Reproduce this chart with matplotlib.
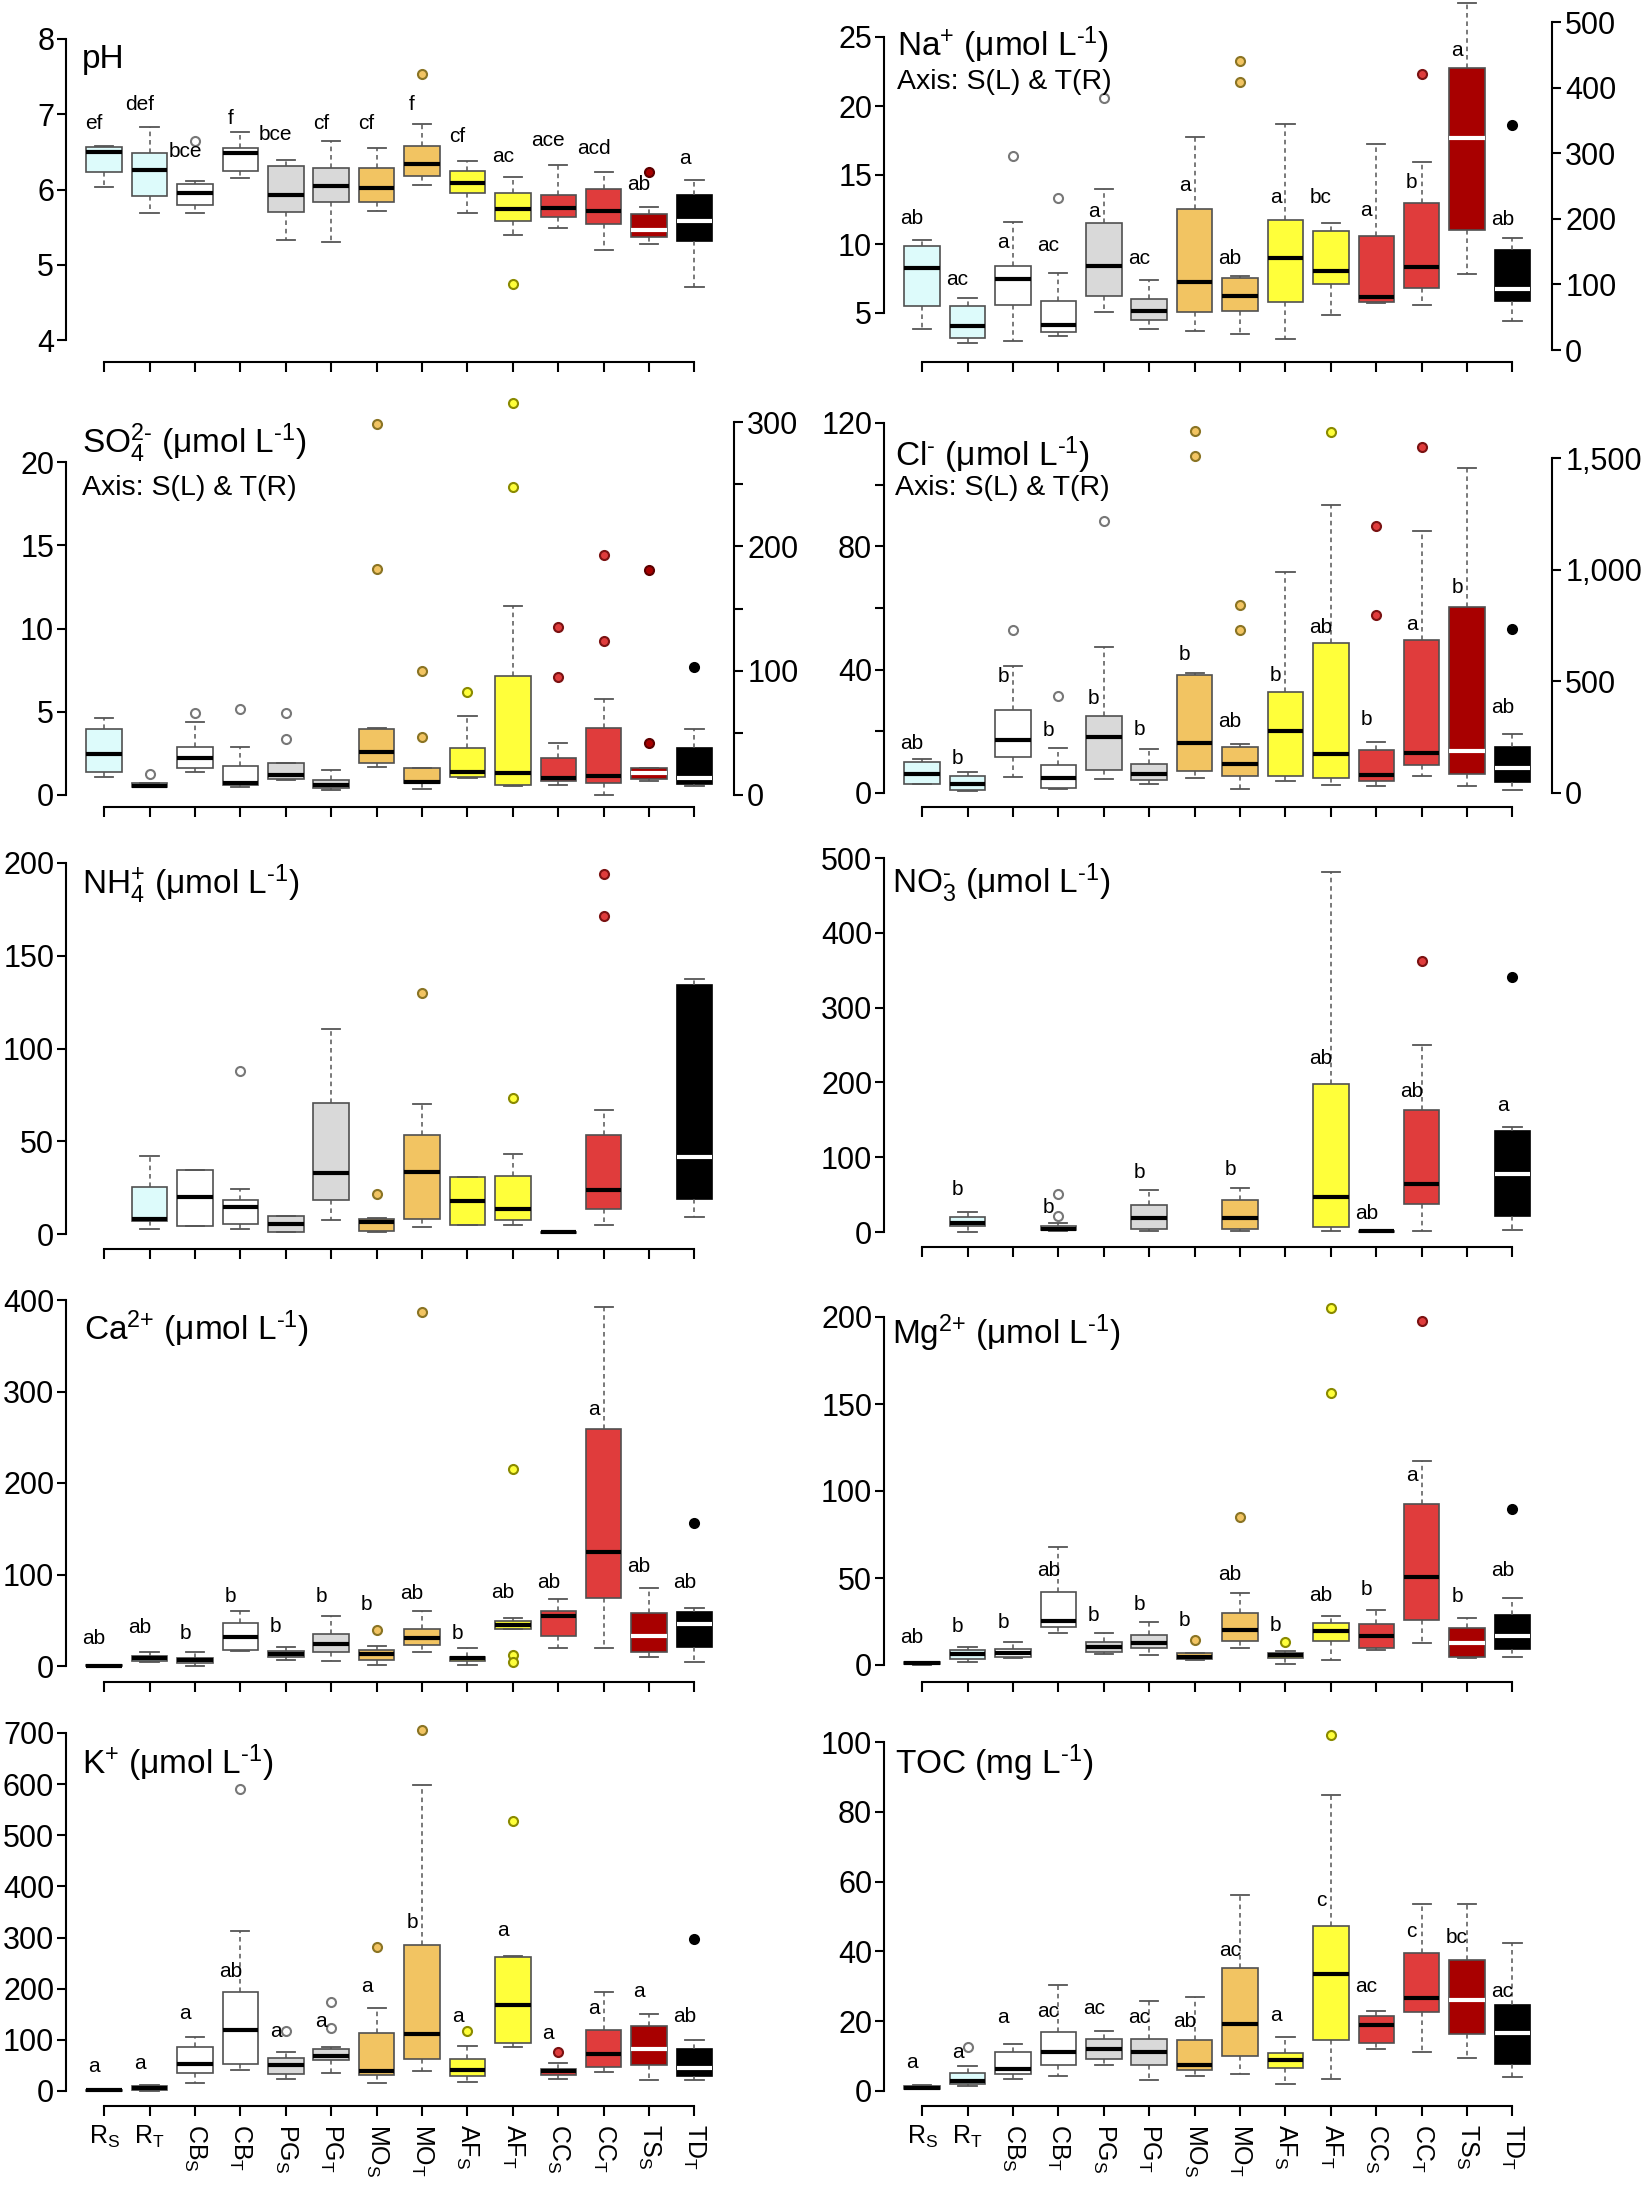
import matplotlib.pyplot as plt

plt.rcParams['font.family'] = ['Liberation Sans', 'DejaVu Sans']
plt.rcParams['mathtext.fontset'] = 'custom'
plt.rcParams['mathtext.rm'] = 'Liberation Sans'
plt.rcParams['mathtext.it'] = 'Liberation Sans:italic'
plt.rcParams['mathtext.bf'] = 'Liberation Sans:bold'

# groups (S = surface, T = throughfall)
groups = ['R', 'R', 'CB', 'CB', 'PG', 'PG', 'MO', 'MO', 'AF', 'AF', 'CC', 'CC', 'TS', 'TD']
subs = ['S', 'T', 'S', 'T', 'S', 'T', 'S', 'T', 'S', 'T', 'S', 'T', 'S', 'T']
box_cols = ['#DDFBFB', '#DDFBFB', '#FFFFFF', '#FFFFFF', '#D9D9D9', '#D9D9D9', '#F2C462', '#F2C462',
            '#FFFF3A', '#FFFF3A', '#E03C3C', '#E03C3C', '#A80000', '#000000']
out_edge = ['#777777', '#777777', '#777777', '#777777', '#777777', '#777777', '#8a7424', '#8a7424',
            '#8a8a00', '#8a8a00', '#7a1212', '#7a1212', '#5a0000', '#000000']

# box stats: [low whisker, Q1, median, Q3, high whisker]
ph_stats = [[6.03, 6.23, 6.50, 6.57, 6.58], [5.69, 5.92, 6.26, 6.49, 6.83], [5.69, 5.80, 5.96, 6.07, 6.11],
            [6.15, 6.25, 6.48, 6.55, 6.77], [5.33, 5.70, 5.93, 6.31, 6.39], [5.30, 5.83, 6.05, 6.29, 6.64],
            [5.72, 5.83, 6.02, 6.29, 6.55], [6.06, 6.18, 6.34, 6.58, 6.87], [5.69, 5.96, 6.08, 6.25, 6.38],
            [5.40, 5.58, 5.74, 5.95, 6.16], [5.49, 5.63, 5.75, 5.93, 6.33], [5.19, 5.54, 5.71, 6.01, 6.23],
            [5.27, 5.37, 5.46, 5.67, 5.77], [4.70, 5.31, 5.58, 5.93, 6.13]]
ph_out = [[], [], [6.65], [], [], [], [], [7.54], [], [4.74], [], [], [6.23], []]
ph_let = ['ef', 'def', 'bce', 'f', 'bce', 'cf', 'cf', 'f', 'cf', 'ac', 'ace', 'acd', 'ab', 'a']
ph_let_y = [6.88, 7.13, 6.50, 6.95, 6.73, 6.88, 6.88, 7.13, 6.71, 6.44, 6.65, 6.54, 6.06, 6.41]

# Na: S on left axis, T on right axis
na_stats = [[3.83, 5.49, 8.29, 9.88, 10.32], [10, 18, 37, 67, 79], [2.98, 5.56, 7.44, 8.41, 11.59],
            [21, 27, 38, 74, 118], [5.07, 6.22, 8.37, 11.54, 14.02], [32, 46, 60, 78, 107],
            [3.71, 5.07, 7.27, 12.51, 17.76], [24, 59, 83, 109, 113], [3.10, 5.80, 9.02, 11.71, 18.66],
            [54, 101, 121, 182, 194], [5.73, 5.80, 6.17, 10.61, 17.24], [68, 95, 127, 224, 287],
            [7.80, 10.98, 17.68, 22.73, 27.5], [44, 75, 93, 153, 171]]
na_out = [[], [], [16.41], [231], [20.56], [], [], [440, 409], [], [], [], [421], [], [343]]
na_let = ['ab', 'ac', 'a', 'ac', 'a', 'ac', 'a', 'ab', 'a', 'bc', 'a', 'b', 'a', 'ab']
na_let_y = [11.83, 107, 10.12, 159, 12.32, 140, 14.22, 140, 13.34, 232, 12.44, 255, 24.02, 199]

so4_stats = [[1.1, 1.4, 2.46, 3.94, 4.6], [6.2, 6.2, 7.5, 9.4, 9.4], [1.36, 1.6, 2.24, 2.86, 4.4],
             [6.7, 8, 9.4, 23.6, 39], [0.9, 0.94, 1.2, 1.9, 1.94], [4, 5.4, 8, 12, 20],
             [1.7, 1.9, 2.56, 3.96, 4.0], [4.6, 9.4, 10.7, 21.4, 22], [1.0, 1.1, 1.4, 2.84, 4.74],
             [7.2, 8, 17.4, 95.6, 152], [0.6, 0.84, 1.04, 2.24, 3.14], [0, 9.4, 15.3, 54, 77],
             [0.84, 0.96, 1.3, 1.64, 1.64], [7.2, 8.6, 13.4, 37.5, 53]]
so4_out = [[], [16.6], [4.9], [69], [4.94, 3.36], [], [22.3, 13.6], [100, 47], [6.2], [315, 248],
           [10.1, 7.1], [193, 124], [13.5, 3.14], [103]]
so4_let = [''] * 14
so4_let_y = [None] * 14

cl_stats = [[2.9, 2.9, 6.2, 9.9, 11.0], [9, 15, 42, 75, 94], [5.2, 11.6, 17.1, 27.0, 41.1],
            [19, 24, 69, 124, 203], [4.6, 7.6, 18.1, 25.1, 47.4], [42, 57, 87, 131, 199],
            [4.9, 7.2, 16.2, 38.4, 38.9], [19, 75, 131, 206, 218], [3.8, 5.4, 20.2, 32.6, 71.7],
            [37, 69, 176, 672, 1291], [2.2, 4.0, 5.9, 14.1, 16.4], [75, 124, 179, 687, 1173],
            [2.4, 6.2, 13.5, 60.2, 105.4], [15, 49, 112, 206, 266]]
cl_out = [[], [], [53], [433], [88.1], [], [117.3, 109.2], [840, 728], [], [1616], [86.5, 57.8],
          [1549], [], [736]]
cl_let = ['ab', 'b', 'b', 'b', 'b', 'b', 'b', 'ab', 'b', 'ab', 'b', 'a', 'b', 'ab']
cl_let_y = [16.2, 154, 37.8, 281, 30.8, 284, 44.9, 318, 38.1, 743, 23.8, 754, 66.8, 385]

nh4_stats = [None, [2.7, 6.8, 8.3, 25.2, 42.2], [4.5, 4.5, 19.8, 34.7, 34.7], [2.7, 5.4, 14.4, 18.5, 24.3],
             [1.1, 1.1, 5.4, 9.5, 9.5], [7.7, 18.5, 32.9, 70.6, 110.5], [1.1, 1.4, 6.3, 8.3, 8.6],
             [3.8, 8.3, 33.4, 53.5, 70.3], [4.7, 4.7, 18.0, 30.7, 30.7], [4.7, 7.7, 13.7, 31.1, 43.1],
             [0.8, 0.8, 1.0, 1.2, 1.2], [4.7, 13.7, 23.5, 53.5, 67.0], None, [9.0, 19.0, 41.5, 134.1, 137.6]]
nh4_out = [[], [], [], [88.0], [], [], [21.7], [129.9], [], [73.3], [], [194.1, 171.2], [], []]
nh4_let = [''] * 14
nh4_let_y = [None] * 14

no3_stats = [None, [0, 7.6, 12.0, 19.6, 26.7], None, [1.8, 2.2, 4.5, 7.6, 12.0], None,
             [1.8, 4.0, 18.7, 36.5, 56.6], None, [1.8, 4.0, 18.7, 43.2, 58.8], None,
             [1.8, 6.7, 46.8, 198.3, 481.3], [0.5, 0.6, 0.9, 1.2, 1.3], [1.8, 37.9, 64.6, 163.5, 249.6],
             None, [3.1, 20.9, 77.5, 134.6, 139.9]]
no3_out = [[], [], [], [51.2, 20.9], [], [], [], [], [], [], [], [361.9], [], [340.5]]
no3_let = ['', 'b', '', 'b', '', 'b', '', 'b', '', 'ab', 'ab', 'ab', '', 'a']
no3_let_y = [None, 56.6, None, 32.1, None, 79.8, None, 84.2, None, 231.3, 25.4, 188.1, None, 168.9]

ca_stats = [[0, 0, 0.3, 0.7, 0.8], [4.7, 5.8, 8.4, 10.9, 15.7], [0, 2.9, 6.6, 8.4, 15.7],
            [16.4, 17.5, 32.1, 47.4, 60.5], [6.6, 10.2, 13.1, 16.8, 21.1], [5.8, 15.7, 23.7, 34.6, 55.0],
            [1.1, 6.6, 12.8, 17.5, 22.2], [15.7, 23.0, 30.2, 40.1, 60.1], [1.1, 5.8, 8.4, 10.2, 19.3],
            [40.4, 40.4, 44.8, 49.2, 52.8], [20.0, 33.2, 55.0, 60.5, 73.2], [20.0, 74.7, 125.0, 259.0, 392.7],
            [10.2, 15.7, 33.2, 57.6, 84.9], [4.7, 21.1, 45.5, 59.4, 63.8]]
ca_out = [[], [], [], [], [], [], [39.3], [386.5], [], [214.9, 12.0, 4.7], [], [], [], [155.9]]
ca_let = ['ab', 'ab', 'b', 'b', 'b', 'b', 'b', 'ab', 'b', 'ab', 'ab', 'a', 'ab', 'ab']
ca_let_y = [30.2, 42.3, 35.7, 75.8, 43.0, 75.8, 66.7, 79.4, 35.7, 80.1, 91.4, 280.0, 108.6, 91.4]

mg_stats = [[0, 0.4, 1.0, 1.5, 1.5], [1.9, 3.3, 6.1, 8.6, 10.5], [4.2, 4.8, 6.7, 9.2, 13.0],
            [18.2, 22.0, 25.5, 42.1, 67.9], [6.1, 7.3, 10.5, 13.4, 18.2], [5.7, 10.0, 12.4, 17.2, 24.5],
            [2.9, 3.4, 4.8, 6.7, 6.7], [10.0, 14.0, 20.1, 29.7, 41.1], [0.4, 4.2, 5.7, 7.1, 8.0],
            [2.9, 14.0, 19.5, 24.3, 28.3], [8.6, 10.0, 16.8, 23.5, 31.6], [12.4, 25.8, 50.3, 92.8, 117.3],
            [3.8, 4.8, 12.4, 21.4, 27.2], [4.8, 9.0, 16.8, 28.7, 38.7]]
mg_out = [[], [], [], [], [], [], [14.4], [85.2], [13.4], [205.2, 156.4], [], [197.5], [], [89.4]]
mg_let = ['ab', 'b', 'b', 'ab', 'b', 'b', 'b', 'ab', 'b', 'ab', 'b', 'a', 'b', 'ab']
mg_let_y = [15.7, 22.4, 24.3, 54.5, 28.7, 34.8, 25.3, 52.1, 22.6, 40.2, 43.4, 109.1, 39.2, 54.5]

k_stats = [[0, 0.5, 1, 2, 3], [0, 1.3, 6.5, 9.8, 11.1], [16.3, 35.3, 53.6, 86.2, 105.8],
           [40.5, 53.6, 118.9, 192.7, 312.9], [24.2, 32.7, 51.6, 65.3, 76.4], [35.3, 61.4, 67.9, 81.6, 86.2],
           [15.7, 30.7, 38.5, 114.3, 162.6], [39.2, 62.1, 112.3, 285.4, 598.9], [17.6, 29.4, 41.8, 62.1, 88.2],
           [86.2, 94.7, 167.9, 262.6, 263.9], [24.2, 32.0, 39.2, 43.8, 54.9], [37.2, 47.0, 73.2, 118.9, 192.7],
           [22.2, 50.3, 83.0, 127.4, 150.2], [22.2, 28.7, 45.1, 81.6, 99.3]]
k_out = [[], [], [], [590.5], [116.9], [173.1, 123.4], [282.2], [705.4], [116.9], [527.1], [76.4], [], [],
         [296.5]]
k_let = ['a', 'a', 'a', 'ab', 'a', 'a', 'a', 'b', 'a', 'a', 'a', 'a', 'a', 'ab']
k_let_y = [47, 53.6, 151.5, 233.2, 116.9, 135.2, 205.1, 329.2, 145.0, 312.9, 112.3, 161.3, 194.0, 145.0]

toc_stats = [[0.5, 0.7, 1.0, 1.4, 1.6], [1.3, 2.1, 2.8, 5.3, 7.2], [3.5, 5.0, 6.4, 11.2, 13.6],
             [4.3, 7.5, 11.2, 16.9, 30.3], [7.5, 9.1, 12.1, 15.0, 17.1], [3.1, 7.5, 11.2, 15.0, 25.7],
             [4.3, 6.1, 7.5, 14.5, 26.9], [5.0, 10.0, 19.3, 35.2, 56.3], [1.9, 6.7, 8.8, 11.0, 15.5],
             [3.5, 14.7, 33.6, 47.3, 84.9], [12.1, 13.8, 19.0, 21.4, 22.9], [11.2, 22.6, 26.6, 39.4, 53.7],
             [9.5, 16.2, 26.0, 37.4, 53.7], [4.0, 7.8, 16.6, 24.5, 42.5]]
toc_out = [[], [12.6], [], [], [], [], [], [], [], [101.9], [], [], [], []]
toc_let = ['a', 'a', 'a', 'ac', 'ac', 'ac', 'ab', 'ac', 'a', 'c', 'ac', 'c', 'bc', 'ac']
toc_let_y = [8.1, 10.9, 21.0, 22.8, 23.6, 21.2, 19.8, 40.3, 21.7, 54.6, 30.0, 45.6, 44.1, 28.4]

W, H = 1650, 2188
pos = list(range(1, 15))
fig = plt.figure(figsize=(W / 100, H / 100), dpi=100)


def ylims(cal, top, bot):
    (v1, p1), (v2, p2) = cal
    k = (v2 - v1) / (p2 - p1)
    return v1 + (bot - p1) * k, v1 + (top - p1) * k


def make_axes(x0, top, bot, cal, ticks, labels=None):
    ax = fig.add_axes([x0 / W, 1 - bot / H, 668 / W, (bot - top) / H])
    ax.set_xlim(0.16, 14.87)
    ax.set_ylim(*ylims(cal, top, bot))
    ax.patch.set_alpha(0)
    for s in ('top', 'right'):
        ax.spines[s].set_visible(False)
    ax.spines['left'].set_bounds(ticks[0], ticks[-1])
    ax.spines['bottom'].set_bounds(1, 14)
    ax.spines['left'].set_linewidth(1.5)
    ax.spines['bottom'].set_linewidth(1.5)
    ax.set_yticks(ticks, labels if labels is not None else [str(t) for t in ticks])
    ax.set_xticks(pos, [''] * 14)
    ax.tick_params(axis='y', length=6.5, width=1.5, pad=2, labelsize=22)
    ax.tick_params(axis='x', length=7, width=1.5)
    return ax


def make_twin(ax, top, bot, cal, ticks, labels):
    ax2 = ax.twinx()
    ax2.set_ylim(*ylims(cal, top, bot))
    for s in ('top', 'left', 'bottom'):
        ax2.spines[s].set_visible(False)
    ax2.spines['right'].set_bounds(ticks[0], ticks[-1])
    ax2.spines['right'].set_linewidth(1.5)
    ax2.set_yticks(ticks, labels)
    ax2.tick_params(axis='y', length=6.5, width=1.5, pad=3, labelsize=22)
    return ax2


def draw_boxes(axs, stats, outs, lets, let_y):
    for i, st in enumerate(stats):
        if st is None:
            continue
        a = axs[i]
        lo, q1, med, q3, hi = st
        fc = box_cols[i]
        edge = '#000000' if fc == '#000000' else '#505050'
        medc = 'white' if i >= 12 else 'black'
        ffc = 'none' if i < 6 else fc
        a.bxp([dict(whislo=lo, q1=q1, med=med, q3=q3, whishi=hi, fliers=outs[i])],
              positions=[pos[i]], widths=0.78, capwidths=0.4, patch_artist=True, manage_ticks=False,
              boxprops=dict(facecolor=fc, edgecolor=edge, linewidth=1.2),
              whiskerprops=dict(color='#555555', linestyle=(0, (3, 2.5)), linewidth=1.1),
              capprops=dict(color='#555555', linewidth=1.3),
              medianprops=dict(color=medc, linewidth=3, solid_capstyle='butt'),
              flierprops=dict(marker='o', markersize=6.5, markerfacecolor=ffc,
                              markeredgecolor=out_edge[i], markeredgewidth=1.5, linestyle='none'))
        if lets[i]:
            a.text(pos[i] - 0.22, let_y[i], lets[i], ha='center', va='center', fontsize=15)


def title(x, y, s, size=24):
    fig.text(x / W, 1 - y / H, s, ha='left', va='top', fontsize=size)


LX, RX = 66, 884
unit = r' ($\mathregular{\mu}$mol L$^{\text{-1}}$)'
note = 'Axis: S(L) & T(R)'

# pH
ax = make_axes(LX, 0, 362, ((8, 39), (4, 340)), [4, 5, 6, 7, 8])
draw_boxes([ax] * 14, ph_stats, ph_out, ph_let, ph_let_y)
title(82, 44, 'pH')

# Na
ax = make_axes(RX, 0, 362, ((25, 37), (5, 313)), [5, 10, 15, 20, 25])
ax2 = make_twin(ax, 0, 362, ((500, 22), (0, 350)), [0, 100, 200, 300, 400, 500],
                ['0', '100', '200', '300', '400', '500'])
draw_boxes([ax if i % 2 == 0 else ax2 for i in range(14)], na_stats, na_out, na_let, na_let_y)
title(897, 25, r'Na$^{\text{+}}$' + unit)
title(897, 69, note, 20.5)

# SO4
ax = make_axes(LX, 385, 807, ((20, 462), (0, 795)), [0, 5, 10, 15, 20])
ax2 = make_twin(ax, 385, 807, ((300, 422), (0, 795)), [0, 50, 100, 150, 200, 250, 300],
                ['0', '', '100', '', '200', '', '300'])
draw_boxes([ax if i % 2 == 0 else ax2 for i in range(14)], so4_stats, so4_out, so4_let, so4_let_y)
title(82, 422, r'SO$_{\text{4}}^{\text{2-}}$' + unit)
title(82, 475, note, 20.5)

# Cl
ax = make_axes(RX, 385, 807, ((120, 423), (0, 793)), [0, 20, 40, 60, 80, 100, 120],
               ['0', '', '40', '', '80', '', '120'])
ax2 = make_twin(ax, 385, 807, ((1500, 458), (0, 793)), [0, 500, 1000, 1500],
                ['0', '500', '1,000', '1,500'])
draw_boxes([ax if i % 2 == 0 else ax2 for i in range(14)], cl_stats, cl_out, cl_let, cl_let_y)
title(895, 435, r'Cl$^{\text{-}}$' + unit)
title(895, 475, note, 20.5)

# NH4
ax = make_axes(LX, 830, 1249, ((200, 863), (0, 1234)), [0, 50, 100, 150, 200])
draw_boxes([ax] * 14, nh4_stats, nh4_out, nh4_let, nh4_let_y)
title(82, 863, r'NH$_{\text{4}}^{\text{+}}$' + unit)

# NO3
ax = make_axes(RX, 830, 1247, ((500, 858), (0, 1232)), [0, 100, 200, 300, 400, 500])
draw_boxes([ax] * 14, no3_stats, no3_out, no3_let, no3_let_y)
title(892, 862, r'NO$_{\text{3}}^{\text{-}}$' + unit)

# Ca
ax = make_axes(LX, 1272, 1682, ((400, 1300), (0, 1666)), [0, 100, 200, 300, 400])
draw_boxes([ax] * 14, ca_stats, ca_out, ca_let, ca_let_y)
title(84, 1308, r'Ca$^{\text{2+}}$' + unit)

# Mg
ax = make_axes(RX, 1272, 1682, ((200, 1317), (0, 1665)), [0, 50, 100, 150, 200])
draw_boxes([ax] * 14, mg_stats, mg_out, mg_let, mg_let_y)
title(892, 1312, r'Mg$^{\text{2+}}$' + unit)

# K and TOC with category labels
xlabels = [g + r'$_{\text{' + s + '}}$' for g, s in zip(groups, subs)]
for x0, cal, ticks, st, ou, le, ly, ttl, tx in [
        (LX, ((700, 1733), (0, 2091)), [0, 100, 200, 300, 400, 500, 600, 700],
         k_stats, k_out, k_let, k_let_y, r'K$^{\text{+}}$' + unit, 82),
        (RX, ((100, 1742), (0, 2091)), [0, 20, 40, 60, 80, 100],
         toc_stats, toc_out, toc_let, toc_let_y, r'TOC (mg L$^{\text{-1}}$)', 895)]:
    ax = make_axes(x0, 1718, 2106, cal, ticks)
    draw_boxes([ax] * 14, st, ou, le, ly)
    ax.set_xticks(pos, xlabels)
    ax.tick_params(axis='x', labelsize=18, pad=6)
    for i, lab in enumerate(ax.get_xticklabels()):
        lab.set_rotation(0 if i < 2 else 270)
        lab.set_va('top')
        lab.set_ha('center')
    title(tx, 1743, ttl)

fig.savefig('out.png', dpi=100)
